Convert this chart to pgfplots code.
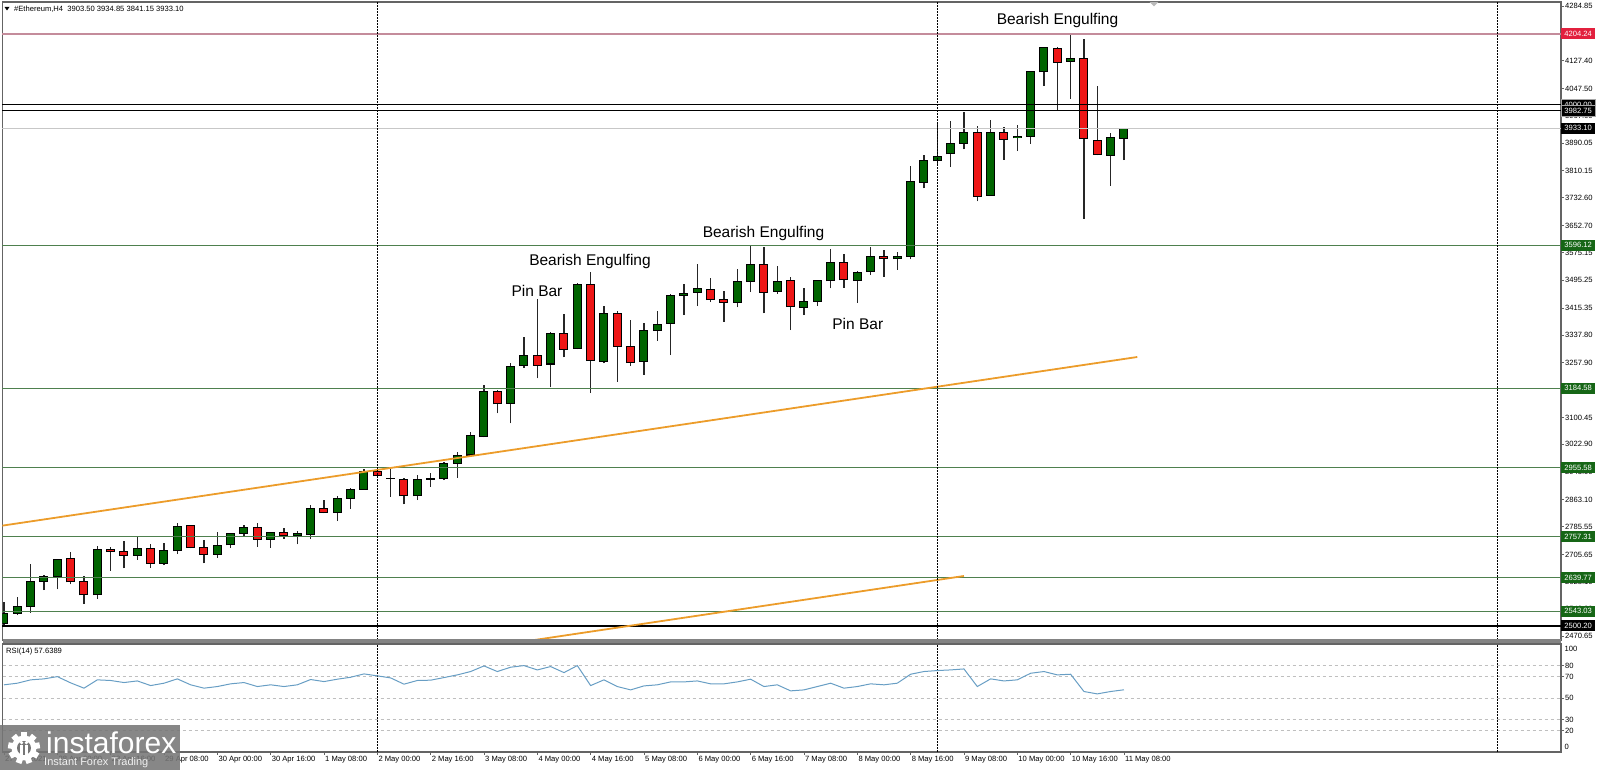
\documentclass[border=0pt]{standalone}
\usepackage{pgfplots}
\pgfplotsset{compat=1.18}
\usepackage{pgfplotstable}
\usepackage{fontspec}
\setmainfont{Liberation Sans}
\definecolor{bull}{RGB}{0,100,0}
\definecolor{bear}{RGB}{238,22,22}
\definecolor{lvlgreen}{RGB}{78,128,78}
\definecolor{boxgreen}{RGB}{22,102,22}
\definecolor{pinkline}{RGB}{196,140,155}
\definecolor{boxred}{RGB}{226,32,62}
\definecolor{trend}{RGB}{236,156,42}
\definecolor{rsiblue}{RGB}{104,158,196}
\definecolor{framec}{RGB}{100,100,100}
\definecolor{logogray}{RGB}{118,118,118}

\pgfplotstableread{
i o h l c
0 2507 2570 2504 2536
1 2536 2584 2531 2555
2 2555 2678 2538 2629
3 2629 2646 2603 2642
4 2641 2694 2605 2692
7 2589 2731 2579 2720
10 2704 2760 2691 2723
12 2680 2738 2675 2716
13 2716 2797 2707 2786
16 2706 2771 2696 2731
17 2733 2768 2725 2766
18 2766 2790 2759 2783
20 2750 2770 2725 2768
22 2759 2774 2735 2766
23 2763 2848 2750 2838
25 2826 2875 2802 2867
26 2867 2896 2838 2894
27 2894 2951 2893 2946
29 2925 2954 2872 2925
31 2874 2934 2862 2923
32 2922 2939 2901 2924
33 2923 2973 2920 2968
34 2968 3001 2927 2992
35 2992 3057 2987 3048
36 3045 3194 3043 3175
38 3141 3258 3083 3247
39 3249 3331 3244 3280
41 3254 3345 3187 3343
43 3298 3487 3296 3482
45 3261 3422 3256 3400
48 3261 3371 3223 3350
49 3350 3407 3321 3369
50 3371 3456 3280 3451
51 3451 3484 3395 3458
52 3460 3541 3421 3472
55 3432 3528 3417 3491
56 3491 3597 3461 3541
58 3463 3537 3456 3491
60 3417 3472 3395 3434
61 3434 3496 3421 3494
62 3493 3584 3472 3547
64 3494 3523 3430 3518
65 3520 3592 3510 3563
67 3557 3577 3525 3565
68 3563 3824 3555 3781
69 3777 3856 3760 3839
70 3839 3949 3831 3853
71 3859 3953 3821 3890
72 3890 3979 3872 3920
74 3740 3957 3738 3922
76 3905 3941 3867 3909
77 3909 4098 3888 4095
78 4095 4165 4054 4165
80 4126 4205 4018 4133
83 3855 3919 3768 3905
84 3903.5 3934.85 3841.15 3933.1
}\bulltab

\pgfplotstableread{
i o h l c
5 2694 2714 2620 2627
6 2629 2644 2563 2589
8 2720 2726 2659 2714
9 2714 2744 2666 2704
11 2723 2735 2668 2680
14 2788 2790 2723 2725
15 2725 2747 2680 2706
19 2783 2797 2728 2750
21 2768 2783 2750 2759
24 2838 2864 2824 2826
28 2946 2949 2925 2932
30 2923 2925 2850 2874
37 3175 3179 3112 3139
40 3280 3441 3213 3251
42 3343 3398 3273 3297
44 3482 3520 3170 3264
46 3400 3408 3203 3304
47 3304 3381 3248 3258
53 3470 3501 3432 3439
54 3439 3465 3376 3432
57 3541 3592 3400 3461
59 3494 3504 3352 3419
63 3547 3571 3474 3496
66 3565 3582 3505 3557
73 3920 3939 3722 3736
75 3922 3936 3842 3901
79 4164 4167 3984 4123
81 4133 4189 3672 3903
82 3898 4054 3855 3857
}\beartab

\pgfplotstableread{
i r
0 62.2
1 63.7
2 66.8
3 67.7
4 69.8
5 64.0
6 59.1
7 66.8
8 66.2
9 64.3
10 65.8
11 61.5
12 63.7
13 67.7
14 62.2
15 59.1
16 60.6
17 63.1
18 64.3
19 60.6
20 62.2
21 60.6
22 62.2
23 67.1
24 65.2
25 67.4
26 69.2
27 72.3
28 70.5
29 68.6
30 62.8
31 66.2
32 66.5
33 68.9
34 71.4
35 74.5
36 79.7
37 74.5
38 78.5
39 80.0
40 76.0
41 79.1
42 73.5
43 80.0
44 61.5
45 66.8
46 60.6
47 57.5
48 61.2
49 62.2
50 64.9
51 64.9
52 65.8
53 63.1
54 63.1
55 64.9
56 67.4
57 60.6
58 62.2
59 56.6
60 57.5
61 60.6
62 63.7
63 59.1
64 60.6
65 63.1
66 62.2
67 63.7
68 72.0
69 74.5
70 75.4
71 76.0
72 76.9
73 60.6
74 67.7
75 65.8
76 66.8
77 72.9
78 74.5
79 71.4
80 72.0
81 56.0
82 53.8
83 56.0
84 57.6
}\rsitab

\newcommand{\mtfont}{\fontsize{7.6}{9}\selectfont}
\newcommand{\annot}{\fontsize{15.5}{17}\selectfont}

\begin{document}
\begin{tikzpicture}[x=1pt,y=1pt]
\path[use as bounding box] (0,0) rectangle (1599,770);

% ---------------- main price panel ----------------
\begin{axis}[
  at={(2.5pt,130pt)}, anchor=south west,
  width=1558.5pt, height=638pt, scale only axis,
  xmin=-0.1125, xmax=116.78, ymin=2459.56, ymax=4296.37,
  clip mode=individual,
  axis line style={draw=framec, line width=1.2pt},
  xtick=\empty,
  ytick={4284.85,4204.95,4127.40,4047.50,3967.60,3890.05,3810.15,3732.60,3652.70,3575.15,3495.25,3415.35,3337.80,3257.90,3180.35,3100.45,3022.90,2943.00,2863.10,2785.55,2705.65,2628.10,2548.20,2470.65},
  yticklabels={4284.85,4204.95,4127.40,4047.50,3967.60,3890.05,3810.15,3732.60,3652.70,3575.15,3495.25,3415.35,3337.80,3257.90,3180.35,3100.45,3022.90,2943.00,2863.10,2785.55,2705.65,2628.10,2548.20,2470.65},
  ytick pos=right, yticklabel pos=right,
  tick align=outside, major tick length=3pt,
  tick style={draw=framec, line width=0.8pt},
  yticklabel style={font=\mtfont, anchor=west, inner sep=1pt},
  candle/.style={draw=none, mark=none, forget plot},
]
% wicks
\addplot[candle, error bars/.cd, y dir=plus, y explicit, error mark=none,
  error bar style={draw=black!85, line width=1.1pt, solid}]
  table[x=i, y=l, y error expr=\thisrow{h}-\thisrow{l}] {\bulltab};
\addplot[candle, error bars/.cd, y dir=plus, y explicit, error mark=none,
  error bar style={draw=black!85, line width=1.1pt, solid}]
  table[x=i, y=l, y error expr=\thisrow{h}-\thisrow{l}] {\beartab};
% body outlines
\addplot[candle, error bars/.cd, y dir=plus, y explicit, error mark=none,
  error bar style={draw=black, line width=9pt, solid}]
  table[x=i, y expr={min(\thisrow{o},\thisrow{c})-1.3}, y error expr={abs(\thisrow{c}-\thisrow{o})+2.6}] {\bulltab};
\addplot[candle, error bars/.cd, y dir=plus, y explicit, error mark=none,
  error bar style={draw=black, line width=9pt, solid}]
  table[x=i, y expr={min(\thisrow{o},\thisrow{c})-1.3}, y error expr={abs(\thisrow{c}-\thisrow{o})+2.6}] {\beartab};
% body fills
\addplot[candle, error bars/.cd, y dir=plus, y explicit, error mark=none,
  error bar style={draw=bull, line width=7pt, solid}]
  table[x=i, y expr={min(\thisrow{o},\thisrow{c})+1.6}, y error expr={max(abs(\thisrow{c}-\thisrow{o})-3.2,0)}] {\bulltab};
\addplot[candle, error bars/.cd, y dir=plus, y explicit, error mark=none,
  error bar style={draw=bear, line width=7pt, solid}]
  table[x=i, y expr={min(\thisrow{o},\thisrow{c})+1.6}, y error expr={max(abs(\thisrow{c}-\thisrow{o})-3.2,0)}] {\beartab};

% horizontal levels
\draw[pinkline, line width=1.5pt] (axis cs:-0.1125,4204.24) -- (axis cs:116.78,4204.24);
\draw[black, line width=0.9pt] (axis cs:-0.1125,4000.00) -- (axis cs:116.78,4000.00);
\draw[black, line width=0.9pt] (axis cs:-0.1125,3982.75) -- (axis cs:116.78,3982.75);
\draw[black!22, line width=1pt] (axis cs:-0.1125,3933.10) -- (axis cs:116.78,3933.10);
\foreach \v in {3596.12,3184.58,2955.58,2757.31,2639.77,2543.03}{
  \edef\tmp{\noexpand\draw[lvlgreen, line width=1pt] (axis cs:-0.1125,\v) -- (axis cs:116.78,\v);}\tmp
}
\draw[black, line width=2pt] (axis cs:-0.1125,2500.20) -- (axis cs:116.78,2500.20);

% trend channel
\addplot[trend, line width=1.8pt, forget plot] coordinates {(-0.3,2787.8) (85.0,3274.3)};
\addplot[trend, line width=1.8pt, forget plot] coordinates {(38,2449.3) (72,2643.8)};

% vertical dotted lines
\foreach \xv in {28,70,112.05}{
  \edef\tmp{\noexpand\draw[black, line width=1pt, dash pattern=on 1.5pt off 1.5pt] (axis cs:\xv,2459.56) -- (axis cs:\xv,4296.37);}\tmp
}

% price label boxes
\tikzset{pbox/.style={anchor=west, font=\mtfont, text=white, inner xsep=2.5pt, inner ysep=0pt,
   minimum height=11pt, minimum width=34pt}}
\node[pbox, fill=boxred] at (axis cs:116.78,4204.24) {4204.24};
\node[pbox, fill=black, draw=gray!70, line width=0.4pt] at (axis cs:116.78,4000.00) {4000.00};
\node[pbox, fill=black, draw=gray!70, line width=0.4pt] at (axis cs:116.78,3982.75) {3982.75};
\node[pbox, fill=black] at (axis cs:116.78,3933.10) {3933.10};
\node[pbox, fill=boxgreen] at (axis cs:116.78,3596.12) {3596.12};
\node[pbox, fill=boxgreen] at (axis cs:116.78,3184.58) {3184.58};
\node[pbox, fill=boxgreen] at (axis cs:116.78,2955.58) {2955.58};
\node[pbox, fill=boxgreen] at (axis cs:116.78,2757.31) {2757.31};
\node[pbox, fill=boxgreen] at (axis cs:116.78,2639.77) {2639.77};
\node[pbox, fill=boxgreen] at (axis cs:116.78,2543.03) {2543.03};
\node[pbox, fill=black] at (axis cs:116.78,2500.20) {2500.20};
\end{axis}

% separator between panels
\fill[framec!80] (2.5,125.5) rectangle (1561,130.5);

% ---------------- RSI panel ----------------
\begin{axis}[
  at={(2.5pt,18pt)}, anchor=south west,
  width=1558.5pt, height=108pt, scale only axis,
  xmin=-0.1125, xmax=116.78, ymin=0, ymax=100,
  clip mode=individual,
  axis line style={draw=framec, line width=1.2pt},
  ytick={80,70,50,30,20}, yticklabels={80,70,50,30,20},
  ytick pos=right, yticklabel pos=right,
  xtick={0,4,...,84},
  xticklabels={27 Apr 2021,28 Apr 00:00,28 Apr 16:00,29 Apr 08:00,30 Apr 00:00,30 Apr 16:00,1 May 08:00,2 May 00:00,2 May 16:00,3 May 08:00,4 May 00:00,4 May 16:00,5 May 08:00,6 May 00:00,6 May 16:00,7 May 08:00,8 May 00:00,8 May 16:00,9 May 08:00,10 May 00:00,10 May 16:00,11 May 08:00},
  xtick pos=bottom,
  tick align=outside, major tick length=3pt,
  tick style={draw=framec, line width=0.8pt},
  yticklabel style={font=\mtfont, anchor=west, inner sep=1pt},
  xticklabel style={font=\mtfont, anchor=north west, inner sep=1pt},
]
\foreach \v in {80,70,50,30,20}{
  \edef\tmp{\noexpand\draw[gray!50, line width=0.8pt, dash pattern=on 3pt off 3pt] (axis cs:-0.1125,\v) -- (axis cs:116.78,\v);}\tmp
}
\foreach \xv in {28,70,112.05}{
  \edef\tmp{\noexpand\draw[black, line width=1pt, dash pattern=on 1.5pt off 1.5pt] (axis cs:\xv,0) -- (axis cs:\xv,100);}\tmp
}
\addplot[rsiblue, line width=1pt, mark=none] table[x=i, y=r] {\rsitab};
\end{axis}
\node[anchor=west, font=\mtfont, inner sep=1pt] at (1563.5,121) {100};
\node[anchor=west, font=\mtfont, inner sep=1pt] at (1563.5,23.5) {0};

% titles
\fill[black] (4.5,763) -- (9.5,763) -- (7,759.5) -- cycle;
\node[anchor=west, font=\mtfont, inner sep=0pt] at (14,761) {\#Ethereum,H4\ \ 3903.50 3934.85 3841.15 3933.10};
\fill[gray!55] (1149.5,768) -- (1158.5,768) -- (1154,763.5) -- cycle;
\node[anchor=west, font=\mtfont, inner sep=0pt] at (6,118.5) {RSI(14) 57.6389};

% annotations
\node[font=\annot, inner sep=0pt] at (537,479.3) {Pin Bar};
\node[font=\annot, inner sep=0pt] at (590,508.3) {Bearish Engulfing};
\node[font=\annot, inner sep=0pt] at (763.5,536.7) {Bearish Engulfing};
\node[font=\annot, inner sep=0pt] at (857.8,445.7) {Pin Bar};
\node[font=\annot, inner sep=0pt] at (1057.5,749.3) {Bearish Engulfing};

% logo
\fill[logogray, opacity=0.88] (0,0) rectangle (180,45);
\begin{scope}[shift={(24,22)}]
  \foreach \a in {0,40,...,320}{\fill[white, rotate=\a] (-3,10) rectangle (3,16);}
  \fill[white] (0,0) circle (12.5);
  \fill[logogray] (0,0) circle (7);
  \fill[white] (-3.6,-7) rectangle (-1.3,3);
  \fill[white] (1.3,-7) rectangle (3.6,3);
  \fill[white] (-2.4,5.3) circle (1.8);
  \fill[white] (2.4,5.3) circle (1.8);
\end{scope}
\node[anchor=base west, text=white, font=\fontsize{30}{32}\selectfont, inner sep=0pt] at (46,16) {instaforex};
\node[anchor=base west, text=white!88!gray, font=\fontsize{11}{12}\selectfont, inner sep=0pt] at (44,4.5) {Instant Forex Trading};
\end{tikzpicture}
\end{document}
